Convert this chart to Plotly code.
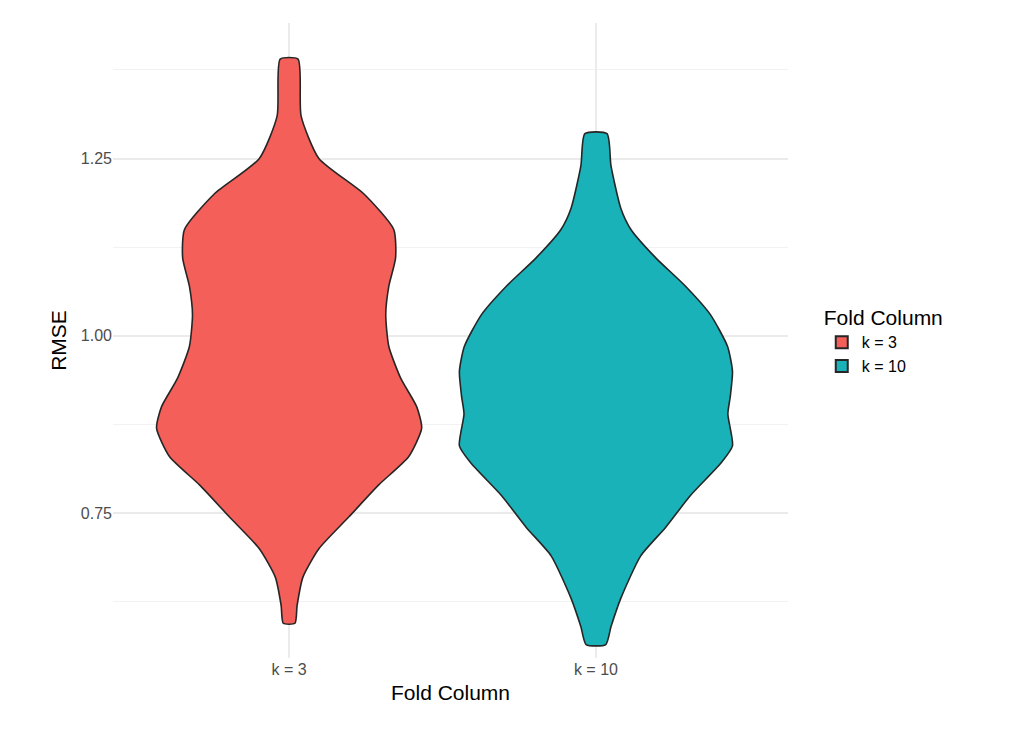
import plotly.graph_objects as go

# violin outlines: RMSE level and half width (category units)
k3_y = [1.39, 1.31, 1.25, 1.20, 1.15, 1.11, 1.07, 1.03, 0.985, 0.94, 0.90, 0.87, 0.83, 0.79, 0.745, 0.70, 0.66, 0.62, 0.595]
k3_w = [0.029, 0.039, 0.097, 0.244, 0.341, 0.347, 0.325, 0.315, 0.325, 0.364, 0.416, 0.432, 0.39, 0.292, 0.195, 0.097, 0.045, 0.026, 0.019]
k10_y = [1.285, 1.24, 1.18, 1.15, 1.11, 1.07, 1.03, 0.985, 0.95, 0.915, 0.89, 0.845, 0.82, 0.775, 0.73, 0.69, 0.63, 0.59, 0.565]
k10_w = [0.036, 0.049, 0.081, 0.114, 0.195, 0.292, 0.373, 0.429, 0.445, 0.438, 0.43, 0.445, 0.406, 0.308, 0.227, 0.146, 0.081, 0.049, 0.032]

groups = ["k = 3", "k = 10"]
colors = ["#F45F5A", "#19B2B9"]

fig = go.Figure()
for i, (name, ys, ws) in enumerate(zip(groups, [k3_y, k10_y], [k3_w, k10_w])):
    c = i + 1
    xs = [c + w for w in ws] + [c - w for w in ws[::-1]] + [c + ws[0]]
    yy = ys + ys[::-1] + [ys[0]]
    fig.add_trace(go.Scatter(x=xs, y=yy, mode="lines", fill="toself", fillcolor=colors[i],
                             line=dict(color="#262626", width=1.6, shape="spline", smoothing=0.6),
                             name=name, showlegend=False))
    # legend-only box key
    fig.add_trace(go.Bar(x=[None], y=[None], name=name, marker=dict(color=colors[i], line=dict(color="#262626", width=1.6))))

grid = "#EBEBEB"
fig.update_layout(
    width=1012, height=736,
    plot_bgcolor="white", paper_bgcolor="white",
    margin=dict(l=105, r=232, t=15, b=86),
    font=dict(family="Liberation Sans, Arial", size=16, color="#4D4D4D"),
    legend=dict(title=dict(text="Fold Column", font=dict(size=21, color="black")),
                x=1.05, y=0.5, yanchor="middle", font=dict(size=16, color="black"),
                itemsizing="constant", tracegroupgap=4),
    xaxis=dict(range=[0.426, 2.626], tickvals=[1, 2], ticktext=groups, showgrid=True,
               gridcolor=grid, gridwidth=2, zeroline=False, ticks="",
               title=dict(text="Fold Column", font=dict(size=21, color="black"), standoff=8)),
    yaxis=dict(range=[0.546, 1.441], tickvals=[0.75, 1.0, 1.25], ticktext=["0.75", "1.00", "1.25"],
               showgrid=True, gridcolor=grid, gridwidth=2, zeroline=False,
               minor=dict(tickvals=[0.625, 0.875, 1.125, 1.375], showgrid=True, gridcolor="#F2F2F2", gridwidth=1),
               title=dict(text="RMSE", font=dict(size=21, color="black"), standoff=8)),
)
fig.write_html("out.html")
